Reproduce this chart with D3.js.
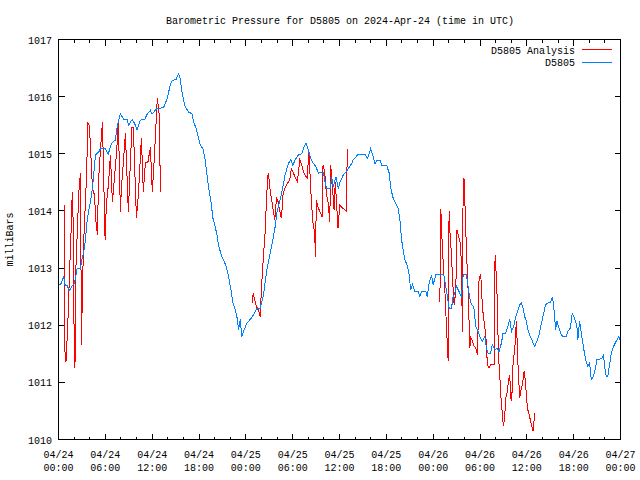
<!DOCTYPE html>
<html>
<head>
<meta charset="utf-8">
<script src="https://cdn.jsdelivr.net/npm/d3@7"></script>
<style>
  html, body { margin: 0; padding: 0; background: #fff; }
  svg { display: block; }
  text { font-family: "Liberation Mono", "DejaVu Sans Mono", monospace; font-size: 10px; fill: #000; }
</style>
</head>
<body>
<svg id="chart" width="640" height="480"></svg>
<script>
// ---------------- DATA ----------------
const titleText = "Barometric Pressure for D5805 on 2024-Apr-24 (time in UTC)";
const yLabelText = "milliBars";
const seriesNames = ["D5805 Analysis", "D5805"];

// hours since 2024-04-24 00:00 UTC
const xTickHours = [0, 6, 12, 18, 24, 30, 36, 42, 48, 54, 60, 66, 72];
const xTickDates = ["04/24", "04/24", "04/24", "04/24", "04/25", "04/25", "04/25", "04/25", "04/26", "04/26", "04/26", "04/26", "04/27"];
const xTickTimes = ["00:00", "06:00", "12:00", "18:00", "00:00", "06:00", "12:00", "18:00", "00:00", "06:00", "12:00", "18:00", "00:00"];
const xMinorStep = 2;
const yTicks = [1010, 1011, 1012, 1013, 1014, 1015, 1016, 1017];

const stationHours = [0,0.26,0.68,0.81,1.11,1.41,1.75,1.96,2.17,2.39,
2.81,3.03,3.24,3.45,3.67,3.88,4.09,4.31,4.51,4.73,
5.15,5.37,6.01,6.36,6.78,7.29,7.51,7.93,8.35,8.79,
8.99,9.43,9.76,10.06,10.49,11.04,11.34,11.77,11.98,12.62,
13.47,13.90,14.32,14.54,15.05,15.39,15.60,15.82,16.15,16.66,
17.10,17.30,17.65,17.94,18.16,18.51,18.80,19.02,19.22,19.53,
19.79,20.08,20.30,20.50,20.85,21.14,21.49,21.78,22.09,22.34,
22.64,22.93,23.06,23.28,23.49,23.79,24.13,24.56,24.98,25.41,
25.83,26.26,26.69,27.11,27.46,27.75,27.97,28.39,28.74,29.03,
29.45,29.76,30.02,30.31,30.73,31.17,31.46,31.72,32.01,32.32,
32.65,33.00,33.29,33.60,33.93,34.15,34.36,34.79,35.00,35.21,
35.55,35.85,36.07,36.49,36.83,37.13,37.56,37.77,38.41,39.26,
39.56,39.81,39.99,40.25,40.54,40.84,41.18,41.40,42.04,42.37,
42.55,42.81,43.10,43.52,43.74,43.96,44.16,44.38,44.67,44.93,
45.11,45.36,45.66,46.08,46.30,46.52,47.07,47.23,47.49,47.79,
48.00,48.34,49.37,49.62,49.79,50.04,50.35,50.56,50.77,50.99,
51.20,51.41,51.63,51.84,52.27,52.47,52.69,52.91,53.20,53.46,
53.75,53.97,54.32,54.61,54.83,55.03,55.34,55.59,55.89,56.18,
56.44,56.75,56.95,57.30,57.59,57.81,58.03,58.32,58.58,58.87,
59.09,59.31,59.51,59.73,59.94,60.15,60.37,60.71,61.00,61.30,
61.56,61.73,61.99,62.16,62.41,62.71,63.01,63.27,63.43,63.69,
63.86,64.11,64.42,64.62,65.06,65.26,65.57,65.82,66.12,66.41,
66.54,66.76,66.98,67.27,67.53,67.82,68.04,68.26,68.55,68.81,
68.97,69.32,69.66,69.83,69.96,70.17,70.38,70.60,70.81,71.11,
71.45,71.79,71.97];

const stationPressure = [1012.71,1012.71,1012.85,1012.71,1012.69,1012.61,1012.69,1012.71,1012.82,1013.00,
1013.00,1013.17,1013.29,1013.49,1013.84,1014.02,1014.16,1014.36,1014.63,1014.98,
1015.03,1015.09,1015.09,1014.99,1015.18,1015.24,1015.47,1015.70,1015.60,1015.60,
1015.50,1015.60,1015.53,1015.41,1015.59,1015.60,1015.69,1015.76,1015.70,1015.79,
1015.81,1015.96,1016.20,1016.28,1016.30,1016.40,1016.31,1016.08,1015.85,1015.73,
1015.70,1015.56,1015.44,1015.27,1015.15,1015.09,1014.89,1014.63,1014.42,1014.16,
1013.87,1013.72,1013.58,1013.40,1013.23,1013.14,1013.03,1012.85,1012.62,1012.39,
1012.27,1012.10,1011.92,1012.10,1011.80,1011.92,1012.04,1012.10,1012.18,1012.30,
1012.30,1012.53,1012.97,1013.26,1013.49,1013.72,1013.96,1014.19,1014.42,1014.63,
1014.83,1014.90,1014.80,1014.89,1014.98,1015.00,1015.12,1015.19,1015.06,1014.92,
1014.83,1014.77,1014.66,1014.68,1014.68,1014.51,1014.39,1014.39,1014.60,1014.42,
1014.60,1014.39,1014.51,1014.63,1014.68,1014.74,1014.83,1014.90,1014.99,1014.99,
1014.92,1015.00,1015.09,1014.98,1014.83,1014.89,1014.89,1014.80,1014.80,1014.66,
1014.42,1014.25,1014.16,1014.04,1013.84,1013.49,1013.32,1013.14,1013.05,1012.88,
1012.62,1012.71,1012.59,1012.59,1012.50,1012.59,1012.59,1012.50,1012.74,1012.88,
1012.71,1012.88,1012.88,1012.68,1012.53,1012.30,1012.30,1012.50,1012.56,1012.68,
1012.62,1012.56,1012.50,1012.88,1012.88,1012.68,1012.47,1012.36,1012.33,1011.98,
1011.89,1011.80,1011.72,1011.80,1011.60,1011.51,1011.51,1011.66,1011.57,1011.60,
1011.54,1011.69,1011.86,1011.86,1011.98,1012.10,1011.89,1011.98,1012.15,1012.27,
1012.36,1012.39,1012.30,1012.15,1012.07,1011.92,1011.83,1011.72,1011.63,1011.72,
1011.83,1011.95,1012.10,1012.21,1012.36,1012.39,1012.39,1012.50,1012.36,1011.92,
1012.07,1011.95,1011.83,1011.80,1011.80,1011.89,1011.95,1012.21,1012.12,1011.98,
1011.75,1012.07,1011.86,1011.60,1011.40,1011.28,1011.34,1011.05,1011.11,1011.25,
1011.40,1011.40,1011.43,1011.48,1011.28,1011.11,1011.11,1011.31,1011.51,1011.63,
1011.72,1011.80,1011.72];

// analysis series: null entries separate the three data runs
const analysisHours = [0.77,0.83,0.96,1.15,1.28,1.37,1.50,1.62,1.73,1.83,
1.98,2.11,2.21,2.60,2.81,2.94,3.07,3.20,3.58,3.77,
3.96,4.35,4.60,4.80,4.99,5.12,5.37,5.63,5.97,6.14,
6.39,6.65,6.91,7.16,7.42,7.67,7.93,8.06,8.31,8.57,
8.95,9.21,9.40,9.59,9.98,10.23,10.62,10.87,11.13,11.45,
11.77,12.02,12.28,12.66,12.92,13.05,
null,
24.81,24.94,25.16,25.36,25.58,25.71,25.83,25.92,26.09,26.22,
26.35,26.51,26.64,26.86,26.99,27.11,27.28,27.50,27.71,27.92,
28.14,28.35,28.56,28.78,28.99,29.33,29.63,29.84,30.06,30.27,
30.60,30.91,31.12,31.33,31.55,31.88,32.06,32.19,32.40,32.61,
32.83,32.91,33.04,33.25,33.47,33.76,33.89,34.11,34.31,34.53,
34.75,34.88,35.04,35.17,35.30,35.46,35.72,35.81,36.03,36.23,
36.67,36.87,37.00,
null,
48.86,48.98,49.11,49.28,49.53,49.71,49.84,49.92,50.04,50.17,
50.35,50.48,50.68,50.90,51.03,51.20,51.32,51.54,51.76,51.84,
51.99,52.09,52.27,52.40,52.52,52.69,52.82,53.04,53.24,53.46,
53.68,53.88,54.10,54.32,54.52,54.74,54.95,55.16,55.38,55.80,
55.93,56.11,56.24,56.36,56.53,56.66,56.87,57.00,57.17,57.30,
57.51,57.64,57.81,57.94,58.06,58.23,58.49,58.66,58.92,59.09,
59.21,59.43,59.64,59.76,59.94,60.07,60.28,60.49,60.71,60.79,
60.92,61.04];

const analysisPressure = [1014.10,1011.54,1011.36,1011.89,1012.32,1012.76,1013.23,1013.67,1014.19,1014.33,
1012.06,1011.26,1012.93,1014.31,1014.66,1011.66,1012.65,1013.37,1014.57,1015.53,
1015.50,1014.40,1014.28,1013.81,1013.58,1014.50,1015.06,1015.55,1013.49,1014.14,
1014.45,1014.98,1014.15,1014.57,1014.98,1015.55,1013.98,1014.40,1014.85,1015.36,
1013.98,1014.85,1015.46,1015.46,1013.88,1014.28,1015.27,1014.33,1014.85,1014.85,
1015.11,1014.33,1014.94,1015.97,1015.67,1014.33,
null,
1012.39,1012.56,1012.44,1012.33,1012.27,1012.22,1012.15,1012.41,1012.85,1013.14,
1013.40,1013.70,1014.22,1014.66,1014.54,1014.36,1014.22,1014.02,1013.84,1014.22,
1014.16,1013.99,1013.87,1014.31,1014.39,1014.48,1014.54,1014.74,1014.68,1014.60,
1014.51,1014.89,1014.83,1014.71,1014.63,1014.57,1015.06,1014.74,1014.16,1013.78,
1013.61,1013.20,1014.19,1014.07,1013.99,1013.90,1014.80,1014.68,1014.31,1014.16,
1013.81,1014.80,1014.48,1014.28,1014.02,1014.51,1013.90,1013.70,1014.10,1014.07,
1014.02,1013.99,1015.09,
null,
1012.41,1014.04,1013.58,1013.11,1012.53,1011.95,1011.60,1011.37,1013.99,1013.58,
1013.23,1012.82,1012.36,1012.59,1013.67,1013.58,1013.52,1013.40,1011.89,1014.57,
1014.54,1014.04,1013.29,1012.88,1012.47,1011.60,1011.78,1011.72,1011.63,1011.60,
1011.48,1012.82,1012.88,1012.30,1012.07,1011.83,1011.31,1011.25,1011.31,1011.31,
1013.23,1012.82,1012.30,1011.48,1011.13,1010.79,1010.44,1010.23,1010.41,1010.73,
1010.84,1011.02,1011.13,1010.73,1010.67,1011.31,1011.66,1012.07,1011.13,1010.73,
1010.84,1010.96,1011.19,1011.08,1010.79,1010.55,1010.44,1010.32,1010.20,1010.15,
1010.32,1010.47];

// ---------------- DRAW ----------------
const svg = d3.select("#chart");
const L = 58.5, R = 620.5, T = 39.5, B = 439.5;
const x = d3.scaleLinear().domain([0, 72]).range([L, R]);
const y = d3.scaleLinear().domain([1010, 1017]).range([B, T]);

const zip = (a, b) => a.map((h, i) => ({ h, v: b[i] })).filter((d, i) => i < b.length);
const station = zip(stationHours, stationPressure);
const analysis = zip(analysisHours, analysisPressure);

// Title
svg.append("text").attr("x", 340).attr("y", 24).attr("text-anchor", "middle").text(titleText);

// Y label
svg.append("text")
  .attr("transform", `translate(13,${(T + B) / 2}) rotate(-90)`)
  .attr("text-anchor", "middle").text(yLabelText);

// Y ticks (left and right)
const g = svg.append("g").attr("stroke", "#000").attr("stroke-width", 1).attr("shape-rendering", "crispEdges");
yTicks.forEach(v => {
  g.append("line").attr("x1", L).attr("x2", L + 6).attr("y1", y(v)).attr("y2", y(v));
  g.append("line").attr("x1", R - 6).attr("x2", R).attr("y1", y(v)).attr("y2", y(v));
  svg.append("text").attr("x", 52).attr("y", y(v) + 4).attr("text-anchor", "end").text(String(v));
});

// X ticks: minor every 2 hours, major every 6 hours (bottom and top)
d3.range(0, 72 + 0.001, xMinorStep).forEach(hh => {
  const major = xTickHours.includes(hh);
  const len = major ? 6 : 3;
  g.append("line").attr("x1", x(hh)).attr("x2", x(hh)).attr("y1", B).attr("y2", B - len);
  g.append("line").attr("x1", x(hh)).attr("x2", x(hh)).attr("y1", T).attr("y2", T + len);
});
xTickHours.forEach((hh, i) => {
  const t = svg.append("text").attr("x", x(hh)).attr("text-anchor", "middle");
  t.append("tspan").attr("x", x(hh)).attr("y", 458).text(xTickDates[i]);
  t.append("tspan").attr("x", x(hh)).attr("y", 471).text(xTickTimes[i]);
});

// Lines
const line = d3.line()
  .defined(d => d.h !== null && d.v !== null)
  .x(d => x(d.h)).y(d => y(d.v));

const plot = svg.append("g");
plot.append("path").datum(analysis).attr("d", line)
  .attr("fill", "none").attr("stroke", "#ff0000").attr("stroke-width", 1)
  .attr("shape-rendering", "crispEdges");
plot.append("path").datum(station).attr("d", line)
  .attr("fill", "none").attr("stroke", "#0080ff").attr("stroke-width", 1)
  .attr("shape-rendering", "crispEdges");

// Frame
svg.append("rect").attr("x", L).attr("y", T).attr("width", R - L).attr("height", B - T)
  .attr("fill", "none").attr("stroke", "#000").attr("stroke-width", 1).attr("shape-rendering", "crispEdges");

// Legend
const legendColors = ["#ff0000", "#0080ff"];
seriesNames.forEach((name, i) => {
  const ly = 50 + i * 12.5;
  svg.append("text").attr("x", 575).attr("y", ly + 3.5).attr("text-anchor", "end").text(name);
  svg.append("line").attr("x1", 582).attr("x2", 612).attr("y1", ly - 0.5).attr("y2", ly - 0.5)
    .attr("stroke", legendColors[i]).attr("stroke-width", 1).attr("shape-rendering", "crispEdges");
});
</script>
</body>
</html>
